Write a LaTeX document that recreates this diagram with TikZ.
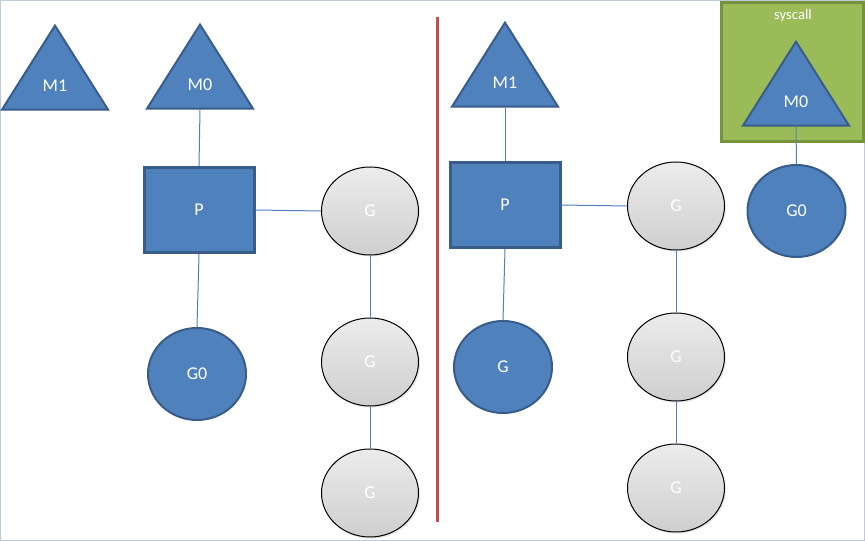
\documentclass[tikz,border=0pt]{standalone}
\usepackage{fontspec}
\setmainfont{Carlito}
\usetikzlibrary{shapes.geometric,shadows}
\definecolor{gmblue}{RGB}{79,129,189}
\definecolor{gmedge}{RGB}{56,93,138}
\definecolor{gmgreen}{RGB}{155,187,89}
\definecolor{gmgreenedge}{RGB}{118,146,60}
\definecolor{gmred}{RGB}{192,80,77}
\definecolor{gmframe}{RGB}{190,200,222}
\tikzset{
  mtri/.style  = {isosceles triangle, isosceles triangle stretches,
                  shape border rotate=90, draw=gmedge, line width=1.5pt,
                  fill=gmblue, text=white, inner sep=0pt,
                  minimum width=79.5pt, minimum height=63pt,
                  font=\fontsize{13.5}{16}\selectfont},
  pbox/.style  = {rectangle, draw=gmedge, line width=2.25pt, fill=gmblue,
                  text=white, minimum width=82.5pt, minimum height=64pt,
                  font=\fontsize{13.5}{16}\selectfont},
  gnode/.style = {ellipse, draw=black, line width=0.75pt, text=white,
                  top color=gray!15, bottom color=gray!38,
                  minimum width=72.75pt, minimum height=66pt,
                  drop shadow={opacity=0.2, shadow xshift=1pt, shadow yshift=-1.2pt},
                  font=\fontsize{13.5}{16}\selectfont},
  gblue/.style = {ellipse, draw=gmedge, line width=1.5pt, fill=gmblue,
                  text=white, minimum width=73.5pt, minimum height=69pt,
                  font=\fontsize{13.5}{16}\selectfont},
  link/.style  = {draw=gmblue, line width=0.75pt},
}
\begin{document}
\begin{tikzpicture}[x=0.75pt, y=-0.75pt]
    \draw[gmframe, line width=0.75pt, fill=white] (0.5,0.5) rectangle (864.5,540.5);
    \useasboundingbox (0,0) rectangle (865,541);

    % before the syscall
    \node[mtri, anchor=apex] (m1) at (55,23) {M1};
    \node[mtri, anchor=apex] (m0) at (200,22) {M0};
    \node[pbox] (p) at (199,210) {P};
    \node[gblue] (g0) at (197,374) {G0};
    \node[gnode] (ga) at (370,211) {G};
    \node[gnode] (gb) at (370,362) {G};
    \node[gnode] (gc) at (370,493) {G};
    \draw[link] (m0.lower side) -- (p.north);
    \draw[link] (p.south) -- (g0.north);
    \draw[link] (p.east) -- (ga.west);
    \draw[link] (ga.south) -- (gb.north);
    \draw[link] (gb.south) -- (gc.north);

    % divider
    \coordinate (cuttop) at (437,17);
    \coordinate (cutbot) at (437,522);
    \draw[gmred, line width=2.25pt] (cuttop) -- (cutbot);

    % after the syscall
    \node[rectangle, draw=gmgreenedge, line width=2.25pt, fill=gmgreen,
          minimum width=106pt, minimum height=104pt] (sys) at (792.5,72) {};
    \node[text=white, font=\fontsize{11}{13}\selectfont] (syslbl) at (793,16) {syscall};
    \node[mtri, anchor=apex] (m0r) at (796,39) {M0};
    \node[gblue] (g0r) at (796.5,211) {G0};
    \node[mtri, anchor=apex] (m1r) at (505,20) {M1};
    \node[pbox] (pr) at (505,205) {P};
    \node[gblue] (gr) at (503,367) {G};
    \node[gnode] (gd) at (676,206) {G};
    \node[gnode] (ge) at (676,357) {G};
    \node[gnode] (gf) at (676,488) {G};
    \draw[link] (m1r.lower side) -- (pr.north);
    \draw[link] (pr.south) -- (gr.north);
    \draw[link] (pr.east) -- (gd.west);
    \draw[link] (gd.south) -- (ge.north);
    \draw[link] (ge.south) -- (gf.north);
    \draw[link] (m0r.lower side) -- (g0r.north);
\end{tikzpicture}
\end{document}
